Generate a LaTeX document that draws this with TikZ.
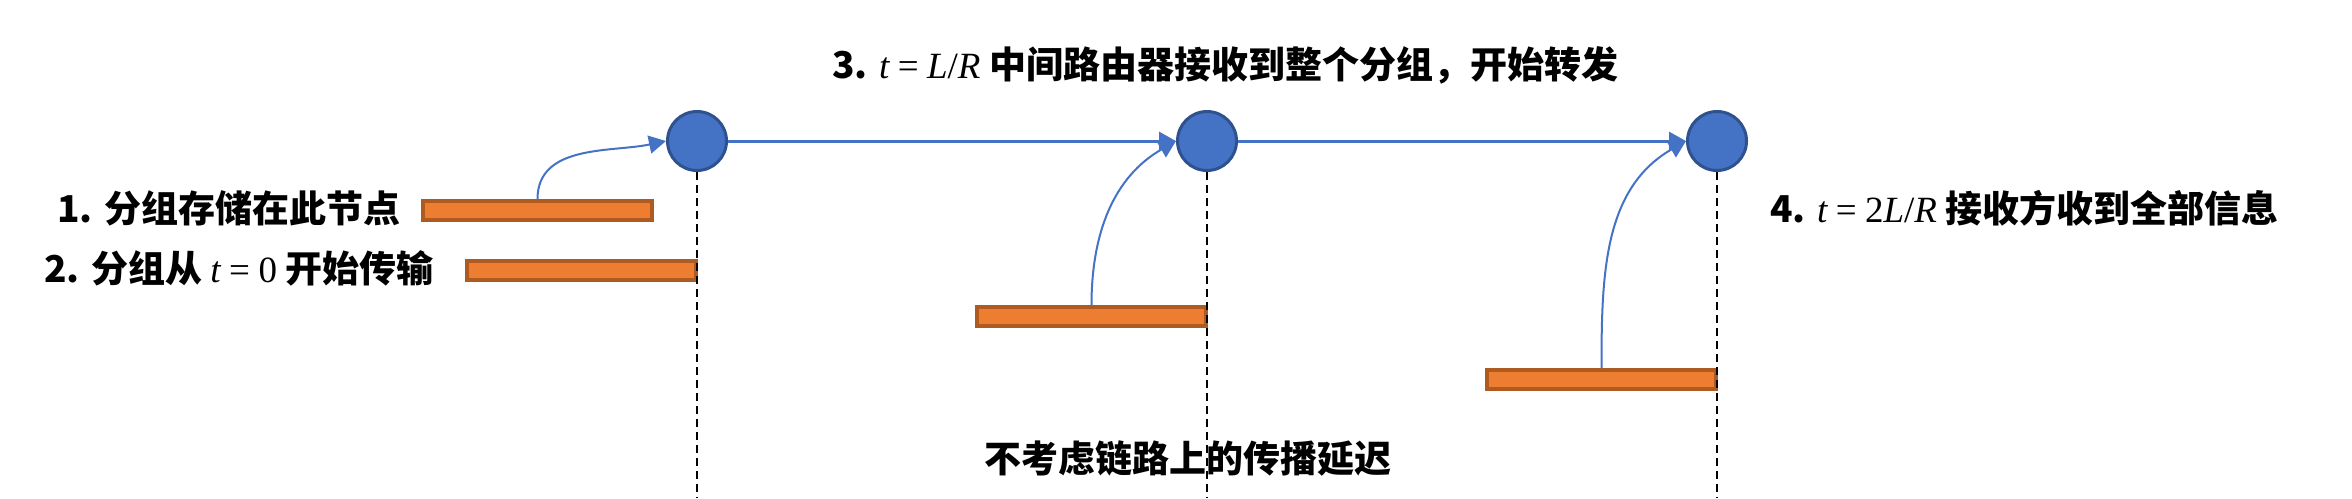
\documentclass[tikz,border=0pt]{standalone}
\usepackage{fontspec}
\newfontfamily\cjk{Noto Sans CJK SC}
\newfontfamily\tnr{Liberation Serif}
\usetikzlibrary{arrows.meta}
\definecolor{nodeblue}{HTML}{4472C4}
\definecolor{nodeedge}{HTML}{2F528F}
\definecolor{pktfill}{HTML}{ED7D31}
\definecolor{pktedge}{HTML}{AE5A21}
\newcommand{\mvar}[1]{{\tnr\mdseries\itshape #1}}
\newcommand{\mrm}[1]{{\tnr\mdseries #1}}
\begin{document}
\begin{tikzpicture}[x=1pt,y=-1pt,
  router/.style={circle, fill=nodeblue, draw=nodeedge, line width=3pt, minimum size=59pt, inner sep=0pt},
  packet/.style={rectangle, fill=pktfill, draw=pktedge, line width=4pt, minimum width=229pt, minimum height=19pt, inner sep=0pt},
  link/.style={draw=nodeblue, line width=3pt, -{Triangle[length=17pt,width=18pt]}},
  hop/.style={draw=nodeblue, line width=2pt, -{Triangle[length=17pt,width=18pt]}},
  timeline/.style={draw=black, line width=2.5pt, dash pattern=on 8pt off 5pt},
  lbl/.style={font=\cjk\bfseries\fontsize{37}{40}\selectfont, inner sep=0pt, anchor=base west}]
\useasboundingbox (0,0) rectangle (2352,498);

% routers
\node[router] (r1) at (697,141) {};
\node[router] (r2) at (1207,141) {};
\node[router] (r3) at (1717,141) {};

% packets
\node[packet] (p1) at (537.5,210.5) {};
\node[packet] (p2) at (581,270) {};
\node[packet] (p3) at (1091.5,316.5) {};
\node[packet] (p4) at (1601.5,379.5) {};

% time lines
\coordinate (e1) at (697,498);
\coordinate (e2) at (1207,498);
\coordinate (e3) at (1717,498);
\draw[timeline] (r1.south) -- (e1);
\draw[timeline] (r2.south) -- (e2);
\draw[timeline] (r3.south) -- (e3);

% links
\draw[link] (r1.east) -- (r2.west);
\draw[link] (r2.east) -- (r3.west);

% hops
\draw[hop] (p1.north) to[out=90,in=192] (r1.west);
\draw[hop] (p3.north) to[out=90,in=210] (r2.west);
\draw[hop] (p4.north) to[out=90,in=210] (r3.west);

% labels
\node[lbl] (t1) at (57,222) {1. 分组存储在此节点};
\node[lbl] (t2) at (44,282) {2. 分组从 \mvar{t} \mrm{=} \mrm{0} 开始传输};
\node[lbl] (t3) at (832,78) {3. \mvar{t} \mrm{=} \mvar{L}\mrm{/}\mvar{R} 中间路由器接收到整个分组，开始转发};
\node[lbl] (t4) at (1770,222) {4. \mvar{t} \mrm{=} \mrm{2}\mvar{L}\mrm{/}\mvar{R} 接收方收到全部信息};
\node[lbl, anchor=base] (t5) at (1188,472) {不考虑链路上的传播延迟};
\end{tikzpicture}
\end{document}
